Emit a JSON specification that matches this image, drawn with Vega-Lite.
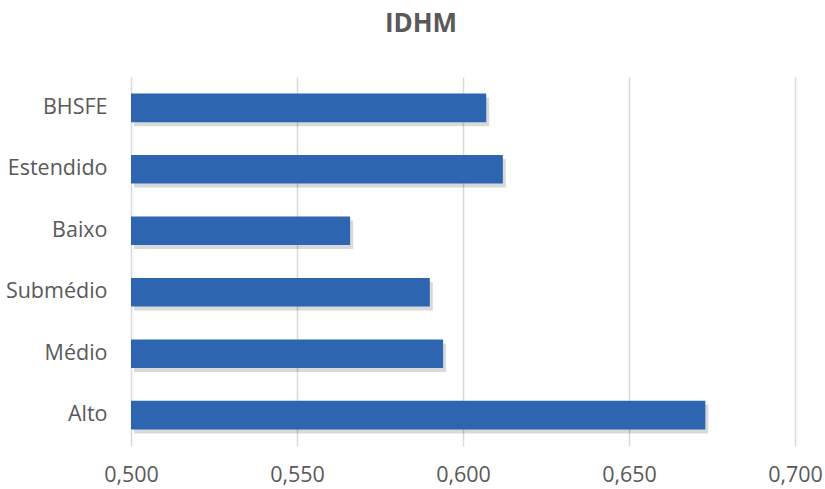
{
  "$schema": "https://vega.github.io/schema/vega-lite/v6.json",
  "autosize": "none",
  "width": 664,
  "height": 369,
  "padding": {"left": 131, "top": 77, "right": 30, "bottom": 43},
  "background": "white",
  "config": {"view": {"stroke": null}, "font": "Open Sans"},
  "title": {"text": "IDHM", "fontSize": 26, "fontWeight": "bold", "color": "#595959", "font": "Open Sans", "anchor": "middle", "dx": -42, "offset": 40},
  "data": {"values": [
    {"grupo": "BHSFE", "idhm": 0.607},
    {"grupo": "Estendido", "idhm": 0.612},
    {"grupo": "Baixo", "idhm": 0.566},
    {"grupo": "Submédio", "idhm": 0.590},
    {"grupo": "Médio", "idhm": 0.594},
    {"grupo": "Alto", "idhm": 0.673}
  ]},
  "encoding": {
    "y": {"field": "grupo", "type": "nominal", "sort": null, "scale": {"paddingInner": 0.535, "paddingOuter": 0.27},
      "axis": {"title": null, "ticks": false, "domain": false, "labelFontSize": 21.5, "labelColor": "#595959", "labelPadding": 24, "grid": false}},
    "x": {"field": "idhm", "type": "quantitative", "scale": {"domain": [0.5, 0.7], "zero": false, "clamp": true},
      "axis": {"title": null, "values": [0.5, 0.55, 0.6, 0.65, 0.7], "labelExpr": "replace(format(datum.value, '.3f'), '.', ',')", "labelFlush": false, "ticks": false, "domain": false, "grid": true, "gridColor": "#d9d9d9", "gridWidth": 1.5, "labelFontSize": 21.5, "labelColor": "#595959", "labelPadding": 18}}
  },
  "layer": [
    {"mark": {"type": "bar", "color": "#000000", "opacity": 0.15, "xOffset": 3, "yOffset": 4}},
    {"mark": {"type": "bar", "color": "#2E65B1"}}
  ]
}
